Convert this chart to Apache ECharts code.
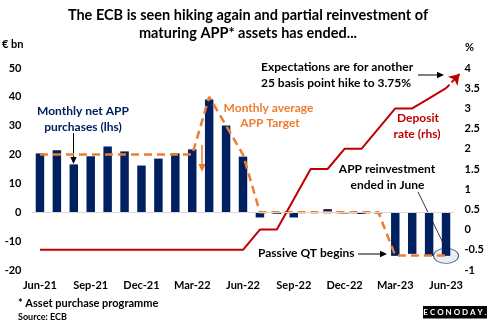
<!DOCTYPE html>
<html>
<head>
<meta charset="utf-8">
<script src="https://cdn.jsdelivr.net/npm/echarts@6/dist/echarts.min.js"></script>
<style>
html,body{margin:0;padding:0;background:#fff;}
#c{width:489px;height:326px;}
</style>
</head>
<body>
<div id="c"></div>
<script>
const months = ['Jun-21','Jul-21','Aug-21','Sep-21','Oct-21','Nov-21','Dec-21','Jan-22','Feb-22','Mar-22','Apr-22','May-22','Jun-22','Jul-22','Aug-22','Sep-22','Oct-22','Nov-22','Dec-22','Jan-23','Feb-23','Mar-23','Apr-23','May-23','Jun-23'];
const netPurchases = [20.4,21.5,16.6,19.4,22.8,21.1,16.2,18.6,20.4,21.8,39.1,30.1,19.3,-1.8,-0.6,-1.8,0.1,1.1,-0.4,-0.6,-0.4,-15.1,-14.4,-15.1,-15.1];
const appTarget = [20,20,20,20,20,20,20,20,20,20,40,30,20,0,0,0,0,0,0,0,0,-15,-15,-15,-15];
const depositRate = [-0.5,-0.5,-0.5,-0.5,-0.5,-0.5,-0.5,-0.5,-0.5,-0.5,-0.5,-0.5,-0.5,0,0,0.75,1.5,1.5,2.0,2.0,2.5,3.0,3.0,3.25,3.5];
const expectation = [[24,3.5],[24.8,3.85]];
const leftTicks = {min:-20,max:50,interval:10};
const rightTicks = {min:-1,max:4,interval:0.5};

const FONT = 'Lato, "Open Sans", sans-serif';
const NAVY = '#002060', ORANGE = '#ED7D31', RED = '#C00000';

function txt(t, x, y, opts) {
  opts = opts || {};
  return {type:'text', silent:true, style:{text:t, x:x, y:y,
    font:(opts.weight||'bold')+' '+(opts.size||12)+'px '+FONT,
    fill:opts.color||'#000', align:opts.align||'center', verticalAlign:'middle'}};
}
function arrow(x1,y1,x2,y2,color,w,head){
  w = w||1; head = head||6;
  const a = Math.atan2(y2-y1,x2-x1);
  const hx = x2 - head*Math.cos(a), hy = y2 - head*Math.sin(a);
  const px = Math.sin(a)*head*0.45, py = -Math.cos(a)*head*0.45;
  return [
    {type:'line', silent:true, shape:{x1:x1,y1:y1,x2:hx,y2:hy}, style:{stroke:color,lineWidth:w}},
    {type:'polygon', silent:true, shape:{points:[[x2,y2],[hx+px,hy+py],[hx-px,hy-py]]}, style:{fill:color}}
  ];
}

const chart = echarts.init(document.getElementById('c'), null, {renderer:'canvas'});
const axisLabelStyle = {color:'#000', fontWeight:'bold', fontSize:11, fontFamily:FONT};

const graphics = [
  txt('The ECB is seen hiking again and partial reinvestment of', 248, 15, {size:14.5}),
  txt('maturing APP* assets has ended...', 248, 33, {size:14.5}),
  txt('€ bn', 2, 44, {size:11, align:'left'}),
  txt('%', 465, 47, {size:11, align:'left'}),
  txt('Monthly net APP', 83, 111, {color:NAVY}),
  txt('purchases (lhs)', 83, 127, {color:NAVY}),
  txt('Monthly average', 268.5, 108, {color:ORANGE}),
  txt('APP Target', 270, 123.5, {color:ORANGE}),
  txt('Expectations are for another', 261, 67.5, {align:'left'}),
  txt('25 basis point hike to 3.75%', 261, 83, {align:'left'}),
  txt('Deposit', 418, 118.5, {color:RED}),
  txt('rate (rhs)', 417, 134, {color:RED}),
  txt('APP reinvestment', 387, 169),
  txt('ended in June', 387.5, 185),
  txt('Passive QT begins', 258, 253.5, {align:'left'}),
  txt('* Asset purchase programme', 18, 303, {size:11, align:'left'}),
  txt('Source: ECB', 18, 317, {size:9, align:'left'}),
  {type:'rect', silent:true, shape:{x:423,y:306,width:64,height:12.5}, style:{fill:'#000'}},
  txt('E C O N O D A Y .', 455, 312.5, {size:8, color:'#fff'}),
  {type:'line', silent:true, shape:{x1:418,y1:192,x2:446,y2:249}, style:{stroke:'#000',lineWidth:0.8}}
].concat(
  arrow(73.5,133,73.5,164,'#000',1,7),
  arrow(202,145,202,172,ORANGE,1.5,8),
  arrow(418,75,444,75,'#000',1,7),
  arrow(358,254,387,254,'#000',1,7)
);

chart.setOption({
  animation:false,
  backgroundColor:'#fff',
  grid:{left:31.5, right:34.5, top:68, bottom:56, containLabel:false},
  xAxis:[
    {type:'category', data:months, position:'bottom',
     axisLine:{show:false, onZero:false}, axisTick:{show:false},
     axisLabel:Object.assign({interval:2, margin:10}, axisLabelStyle), splitLine:{show:false}},
    {type:'value', min:-0.5, max:24.5, show:false}
  ],
  yAxis:[
    {type:'value', min:leftTicks.min, max:leftTicks.max, interval:leftTicks.interval,
     axisLine:{show:false}, axisTick:{show:false}, splitLine:{show:false},
     axisLabel:Object.assign({margin:10}, axisLabelStyle)},
    {type:'value', min:rightTicks.min, max:rightTicks.max, interval:rightTicks.interval, position:'right',
     axisLine:{show:false}, axisTick:{show:false}, splitLine:{show:false},
     axisLabel:Object.assign({margin:10}, axisLabelStyle)}
  ],
  series:[
    {type:'scatter', name:'highlight', z:1, silent:true, symbol:'circle', symbolSize:[25,15],
     data:[[months[24], netPurchases[24]]],
     itemStyle:{color:'rgba(222,231,245,0.9)', borderColor:'#2F3B52', borderWidth:1}},
    {type:'bar', name:'Monthly net APP purchases (lhs)', z:2, data:netPurchases, barWidth:'50%',
     itemStyle:{color:NAVY},
     markLine:{silent:true, symbol:['none','none'], label:{show:false},
       lineStyle:{color:'#D9D9D9', type:'solid', width:1}, data:[{yAxis:0}]}},
    {type:'line', name:'Monthly average APP Target', z:3, data:appTarget, symbol:'none',
     lineStyle:{color:ORANGE, width:2.5, type:[8,5]}},
    {type:'line', name:'Deposit rate (rhs)', z:4, yAxisIndex:1, data:depositRate, symbol:'none',
     lineStyle:{color:RED, width:2}},
    {type:'lines', name:'Expectation', z:4, coordinateSystem:'cartesian2d', xAxisIndex:1, yAxisIndex:1,
     clip:false, symbol:['none','arrow'], symbolSize:10,
     lineStyle:{color:RED, width:2, type:[5,3], opacity:1},
     data:[{coords:expectation}]}
  ],
  graphic:graphics
});
</script>
</body>
</html>
